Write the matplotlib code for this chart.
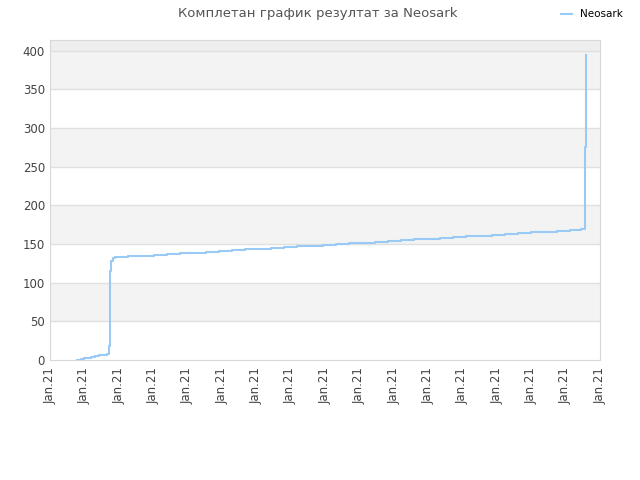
import matplotlib.pyplot as plt

# rank of Neosark over time (x in tick units)
days = [0.78, 0.90, 1.00, 1.10, 1.20, 1.30, 1.42, 1.55, 1.66, 1.72, 1.73, 1.74, 1.75, 1.76, 1.78, 1.83,
        1.90, 2.28, 2.66, 3.03, 3.41, 3.79, 4.17, 4.54, 4.92, 5.30, 5.68, 6.06, 6.43, 6.81, 7.19, 7.57,
        7.94, 8.32, 8.70, 9.08, 9.46, 9.83, 10.21, 10.59, 10.97, 11.34, 11.72, 12.10, 12.48, 12.86,
        13.23, 13.61, 13.99, 14.37, 14.74, 15.12, 15.45, 15.53, 15.55, 15.57, 15.60]
ranks = [0, 1, 2, 3, 4, 5, 6, 7, 8, 10, 18, 85, 100, 115, 128, 132,
         133, 134, 135, 136, 137, 138, 139, 140, 141, 142, 143, 144, 145, 146, 147, 148,
         149, 150, 151, 152, 153, 154, 155, 156, 157, 158, 159, 160, 161, 162,
         163, 164, 165, 166, 167, 168, 169, 170, 230, 275, 395]
tick_labels = ['Jan.21'] * 17

fig = plt.figure(figsize=(6.4, 4.8), dpi=100)
ax = fig.add_axes([0.078, 0.25, 0.8595, 0.6667])

# alternating bands
for lo in range(0, 450, 50):
    if lo == 400:
        c = '#EEEEEE'
    elif (lo // 50) % 2 == 1:
        c = '#F3F3F3'
    else:
        c = 'white'
    ax.axhspan(lo, lo + 50, color=c, zorder=0, lw=0)
for v in range(50, 450, 50):
    ax.axhline(v, color='#E0E0E0', lw=1, zorder=1)

ax.plot(days, ranks, drawstyle='steps-post', color='#99C9F5', lw=1.5, label='Neosark', zorder=3)

ax.set_xlim(0, 16)
ax.set_ylim(0, 414)
ax.set_xticks(range(17))
ax.set_xticklabels(tick_labels, rotation=90, fontsize=8.5, color='#444444')
ax.set_yticks(range(0, 450, 50))
ax.tick_params(axis='y', labelsize=8.5, colors='#444444', length=0)
ax.tick_params(axis='x', length=0, pad=5)
for s in ax.spines.values():
    s.set_color('#D8D8D8')

fig.suptitle('Комплетан график резултат за Neosark', x=0.497, y=0.985, fontsize=9.5, color='#555555')
fig.legend(loc='upper right', bbox_to_anchor=(0.988, 1.0), frameon=False, fontsize=7.5, handlelength=1.0)

fig.savefig('out.png', dpi=100)
